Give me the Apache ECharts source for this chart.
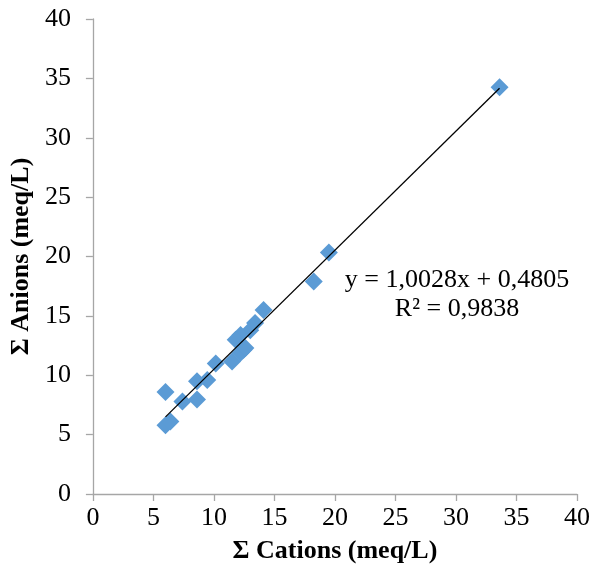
<!DOCTYPE html>
<html>
<head>
<meta charset="utf-8">
<script src="https://cdn.jsdelivr.net/npm/echarts@6/dist/echarts.min.js"></script>
<style>html,body{margin:0;padding:0;background:#fff;}#c{width:593px;height:576px;}</style>
</head>
<body>
<div id="c"></div>
<script>
// Data
const cations = [33.6, 19.5, 18.25, 14.1, 13.4, 13.0, 12.2, 11.8, 12.45, 11.5, 10.15, 9.45, 8.6, 6.0, 7.4, 8.6, 6.0, 6.4, 12.2, 12.6];
const anions  = [34.26, 20.34, 17.9, 15.5, 14.4, 13.8, 13.4, 13.0, 12.15, 11.15, 11.0, 9.6, 9.5, 8.6, 7.8, 7.95, 5.8, 6.1, 11.9, 12.3];
const slope = 1.0028;
const intercept = 0.4805;
const equationText = 'y = 1,0028x + 0,4805';
const r2Text = 'R² = 0,9838';
const xTitle = 'Σ Cations (meq/L)';
const yTitle = 'Σ Anions (meq/L)';

const points = cations.map((c, i) => [c, anions[i]]);
const xMin = Math.min(...cations), xMax = Math.max(...cations);
const trend = [[xMin, slope * xMin + intercept], [xMax, slope * xMax + intercept]];

const FONT = '"Liberation Serif", "Times New Roman", serif';
const axisColor = '#a6a6a6';

const chart = echarts.init(document.getElementById('c'));
chart.setOption({
  animation: false,
  grid: { left: 92, right: 14, top: 19, bottom: 82 },
  xAxis: {
    type: 'value', min: 0, max: 40, interval: 5,
    name: xTitle, nameLocation: 'middle', nameGap: 44,
    nameTextStyle: { fontFamily: FONT, fontWeight: 'bold', fontSize: 26, color: '#000' },
    axisLine: { show: true, lineStyle: { color: axisColor, width: 1.3 } },
    axisTick: { show: true, length: 7, lineStyle: { color: axisColor, width: 1.3 } },
    axisLabel: { fontFamily: FONT, fontSize: 26, color: '#000', margin: 11 },
    splitLine: { show: false }
  },
  yAxis: {
    type: 'value', min: 0, max: 40, interval: 5,
    name: yTitle, nameLocation: 'middle', nameGap: 57,
    nameTextStyle: { fontFamily: FONT, fontWeight: 'bold', fontSize: 26, color: '#000' },
    axisLine: { show: true, lineStyle: { color: axisColor, width: 1.3 } },
    axisTick: { show: true, length: 7, lineStyle: { color: axisColor, width: 1.3 } },
    axisLabel: { fontFamily: FONT, fontSize: 26, color: '#000', margin: 22 },
    splitLine: { show: false }
  },
  series: [
    {
      type: 'scatter', data: points, symbol: 'diamond', symbolSize: 18,
      itemStyle: { color: '#5b9bd5', opacity: 1 }, z: 2
    },
    {
      type: 'line', data: trend, symbol: 'none',
      lineStyle: { color: '#000', width: 1.3 }, z: 3
    }
  ],
  graphic: [
    { type: 'text', x: 457, y: 280, style: { text: equationText, font: '26px ' + FONT, fill: '#000', align: 'center', verticalAlign: 'middle' } },
    { type: 'text', x: 457, y: 309, style: { text: r2Text, font: '26px ' + FONT, fill: '#000', align: 'center', verticalAlign: 'middle' } }
  ]
});
</script>
</body>
</html>
